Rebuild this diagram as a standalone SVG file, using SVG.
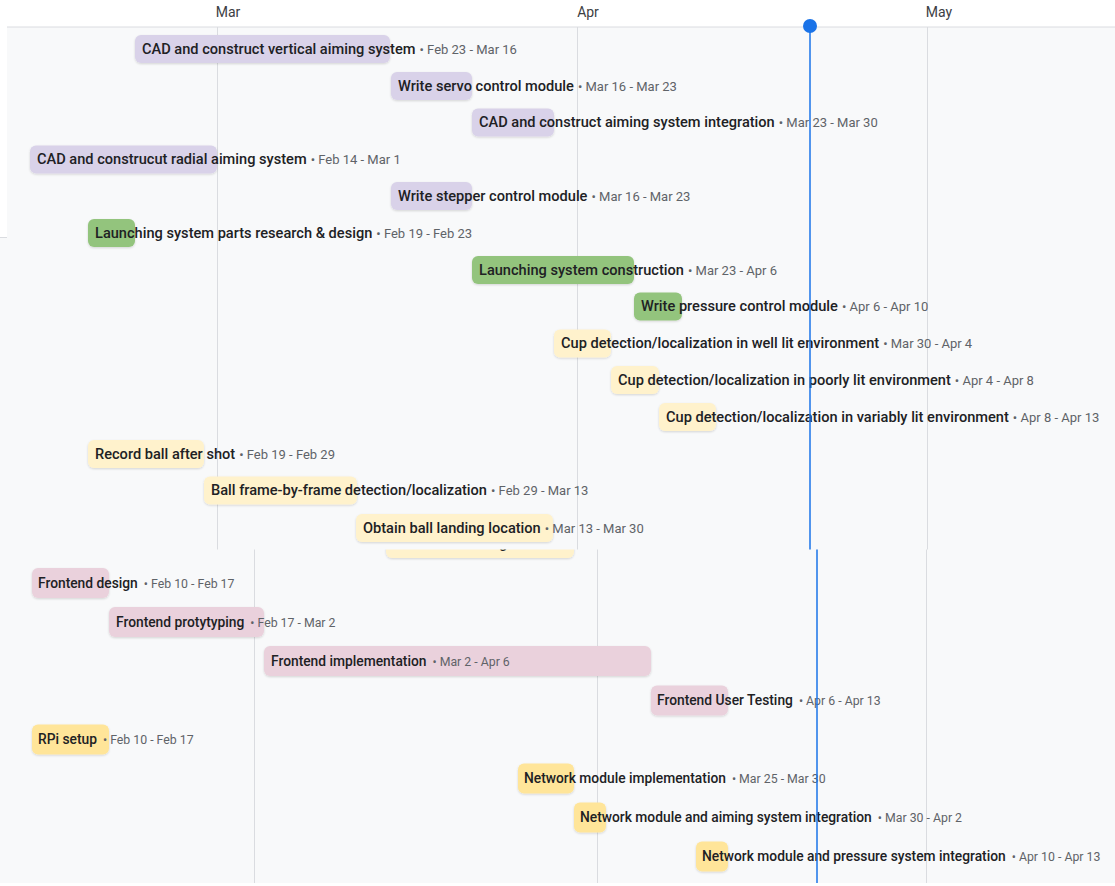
<svg xmlns="http://www.w3.org/2000/svg" width="1115" height="886" viewBox="0 0 1115 886">
<style>
.bg{fill:#f8f9fa}
.grid{stroke:#dadce0;stroke-width:1}
.month{font-family:Roboto,"Liberation Sans",sans-serif;font-size:14px;fill:#3c4043}
.t{font-family:Roboto,"Liberation Sans",sans-serif;font-size:14.6px;font-weight:500;fill:#202124}
.b{font-size:13.8px}
.d{font-size:13px;font-weight:400;fill:#5f6368}
.b .d{font-size:12.3px}
.purple{fill:#d9d2e9}
.green{fill:#93c47d}
.ly{fill:#fff2cc}
.dy{fill:#ffe599}
.pink{fill:#ead1dc}
.bar{filter:url(#sh)}
.now{stroke:#1a73e8;stroke-width:1.5}
</style>
<defs>
<filter id="sh" x="-10%" y="-20%" width="120%" height="150%">
<feDropShadow dx="0" dy="1" stdDeviation="0.8" flood-color="#000" flood-opacity="0.15"/>
</filter>
<clipPath id="bottomclip"><rect x="0" y="549.5" width="1115" height="340"/></clipPath>
</defs>
<rect width="1115" height="886" fill="#ffffff"/>
<rect class="bg" x="0" y="27" width="1115" height="856"/>
<rect x="0" y="27" width="7" height="210" fill="#ffffff"/>
<line x1="0" y1="237.5" x2="7" y2="237.5" stroke="#dadce0"/>
<rect x="8" y="883" width="1107" height="3" fill="#ffffff"/>
<line x1="7" y1="27" x2="1115" y2="27" stroke="#dadce0"/>
<g id="header">
<text class="month" x="228" y="17" text-anchor="middle">Mar</text>
<text class="month" x="588" y="17" text-anchor="middle">Apr</text>
<text class="month" x="939" y="17" text-anchor="middle">May</text>
</g>
<g id="gridlines">
<line class="grid" x1="217.5" y1="27" x2="217.5" y2="549.5"/>
<line class="grid" x1="577.5" y1="27" x2="577.5" y2="549.5"/>
<line class="grid" x1="927.5" y1="27" x2="927.5" y2="549.5"/>
<line class="grid" x1="254.5" y1="549.5" x2="254.5" y2="883"/>
<line class="grid" x1="597.5" y1="549.5" x2="597.5" y2="883"/>
<line class="grid" x1="926.5" y1="549.5" x2="926.5" y2="883"/>
</g>
<g id="task-obtain-hidden" clip-path="url(#bottomclip)">
<rect class="ly bar" x="386" y="529" width="188" height="29" rx="6"/>
<text class="t b" x="392" y="548">Obtain ball landing location</text>
</g>
<g id="task1"><rect class="purple bar" x="135" y="35" width="255" height="28" rx="6"/><text class="t" x="142" y="53.5">CAD and construct vertical aiming system<tspan class="d" dx="4">• Feb 23 - Mar 16</tspan></text></g>
<g id="task2"><rect class="purple bar" x="391" y="72" width="81" height="28" rx="6"/><text class="t" x="398" y="90.5">Write servo control module<tspan class="d" dx="4">• Mar 16 - Mar 23</tspan></text></g>
<g id="task3"><rect class="purple bar" x="472" y="108.5" width="82" height="28" rx="6"/><text class="t" x="479" y="127">CAD and construct aiming system integration<tspan class="d" dx="4">• Mar 23 - Mar 30</tspan></text></g>
<g id="task4"><rect class="purple bar" x="30" y="145.5" width="187" height="28" rx="6"/><text class="t" x="37" y="164">CAD and construcut radial aiming system<tspan class="d" dx="4">• Feb 14 - Mar 1</tspan></text></g>
<g id="task5"><rect class="purple bar" x="391" y="182" width="81" height="28" rx="6"/><text class="t" x="398" y="200.5">Write stepper control module<tspan class="d" dx="4">• Mar 16 - Mar 23</tspan></text></g>
<g id="task6"><rect class="green bar" x="88" y="219" width="47" height="28" rx="6"/><text class="t" x="95" y="237.5">Launching system parts research &amp; design<tspan class="d" dx="4">• Feb 19 - Feb 23</tspan></text></g>
<g id="task7"><rect class="green bar" x="472" y="256" width="162" height="28" rx="6"/><text class="t" x="479" y="274.5">Launching system construction<tspan class="d" dx="4">• Mar 23 - Apr 6</tspan></text></g>
<g id="task8"><rect class="green bar" x="634" y="292.5" width="48" height="28" rx="6"/><text class="t" x="641" y="311">Write pressure control module<tspan class="d" dx="4">• Apr 6 - Apr 10</tspan></text></g>
<g id="task9"><rect class="ly bar" x="554" y="329.5" width="57" height="28" rx="6"/><text class="t" x="561" y="348">Cup detection/localization in well lit environment<tspan class="d" dx="4">• Mar 30 - Apr 4</tspan></text></g>
<g id="task10"><rect class="ly bar" x="611" y="366" width="48" height="28" rx="6"/><text class="t" x="618" y="384.5">Cup detection/localization in poorly lit environment<tspan class="d" dx="4">• Apr 4 - Apr 8</tspan></text></g>
<g id="task11"><rect class="ly bar" x="659" y="403" width="57" height="28" rx="6"/><text class="t" x="666" y="421.5">Cup detection/localization in variably lit environment<tspan class="d" dx="4">• Apr 8 - Apr 13</tspan></text></g>
<g id="task12"><rect class="ly bar" x="88" y="440" width="116" height="28" rx="6"/><text class="t" x="95" y="458.5">Record ball after shot<tspan class="d" dx="4">• Feb 19 - Feb 29</tspan></text></g>
<g id="task13"><rect class="ly bar" x="204" y="476.5" width="153" height="28" rx="6"/><text class="t" x="211" y="495">Ball frame-by-frame detection/localization<tspan class="d" dx="4">• Feb 29 - Mar 13</tspan></text></g>
<g id="task14"><rect class="ly bar" x="356" y="514" width="197" height="28" rx="6"/><text class="t" x="363" y="532.5">Obtain ball landing location<tspan class="d" dx="4">• Mar 13 - Mar 30</tspan></text></g>
<g id="task15"><rect class="pink bar" x="32" y="568" width="77" height="30" rx="6"/><text class="t b" x="38" y="587.5">Frontend design<tspan class="d" dx="6">• Feb 10 - Feb 17</tspan></text></g>
<g id="task16"><rect class="pink bar" x="109" y="607" width="155" height="30" rx="6"/><text class="t b" x="116" y="626.5">Frontend protytyping<tspan class="d" dx="6">• Feb 17 - Mar 2</tspan></text></g>
<g id="task17"><rect class="pink bar" x="264" y="646" width="387" height="30" rx="6"/><text class="t b" x="271" y="665.5">Frontend implementation<tspan class="d" dx="6">• Mar 2 - Apr 6</tspan></text></g>
<g id="task18"><rect class="pink bar" x="651" y="685.5" width="77" height="30" rx="6"/><text class="t b" x="657" y="705">Frontend User Testing<tspan class="d" dx="6">• Apr 6 - Apr 13</tspan></text></g>
<g id="task19"><rect class="dy bar" x="32" y="724.5" width="77" height="30" rx="6"/><text class="t b" x="38" y="744">RPi setup<tspan class="d" dx="6">• Feb 10 - Feb 17</tspan></text></g>
<g id="task20"><rect class="dy bar" x="518" y="763.5" width="56" height="30" rx="6"/><text class="t b" x="524" y="783">Network module implementation<tspan class="d" dx="6">• Mar 25 - Mar 30</tspan></text></g>
<g id="task21"><rect class="dy bar" x="574" y="802.5" width="32" height="30" rx="6"/><text class="t b" x="580" y="822">Network module and aiming system integration<tspan class="d" dx="6">• Mar 30 - Apr 2</tspan></text></g>
<g id="task22"><rect class="dy bar" x="696" y="841.5" width="32" height="30" rx="6"/><text class="t b" x="702" y="861">Network module and pressure system integration<tspan class="d" dx="6">• Apr 10 - Apr 13</tspan></text></g>
<g id="connectors">
<line class="now" x1="810" y1="26" x2="810" y2="549.5"/>
<line class="now" x1="817" y1="549.5" x2="817" y2="883"/>
<circle cx="810" cy="26" r="7" fill="#1a73e8"/>
</g>
</svg>
